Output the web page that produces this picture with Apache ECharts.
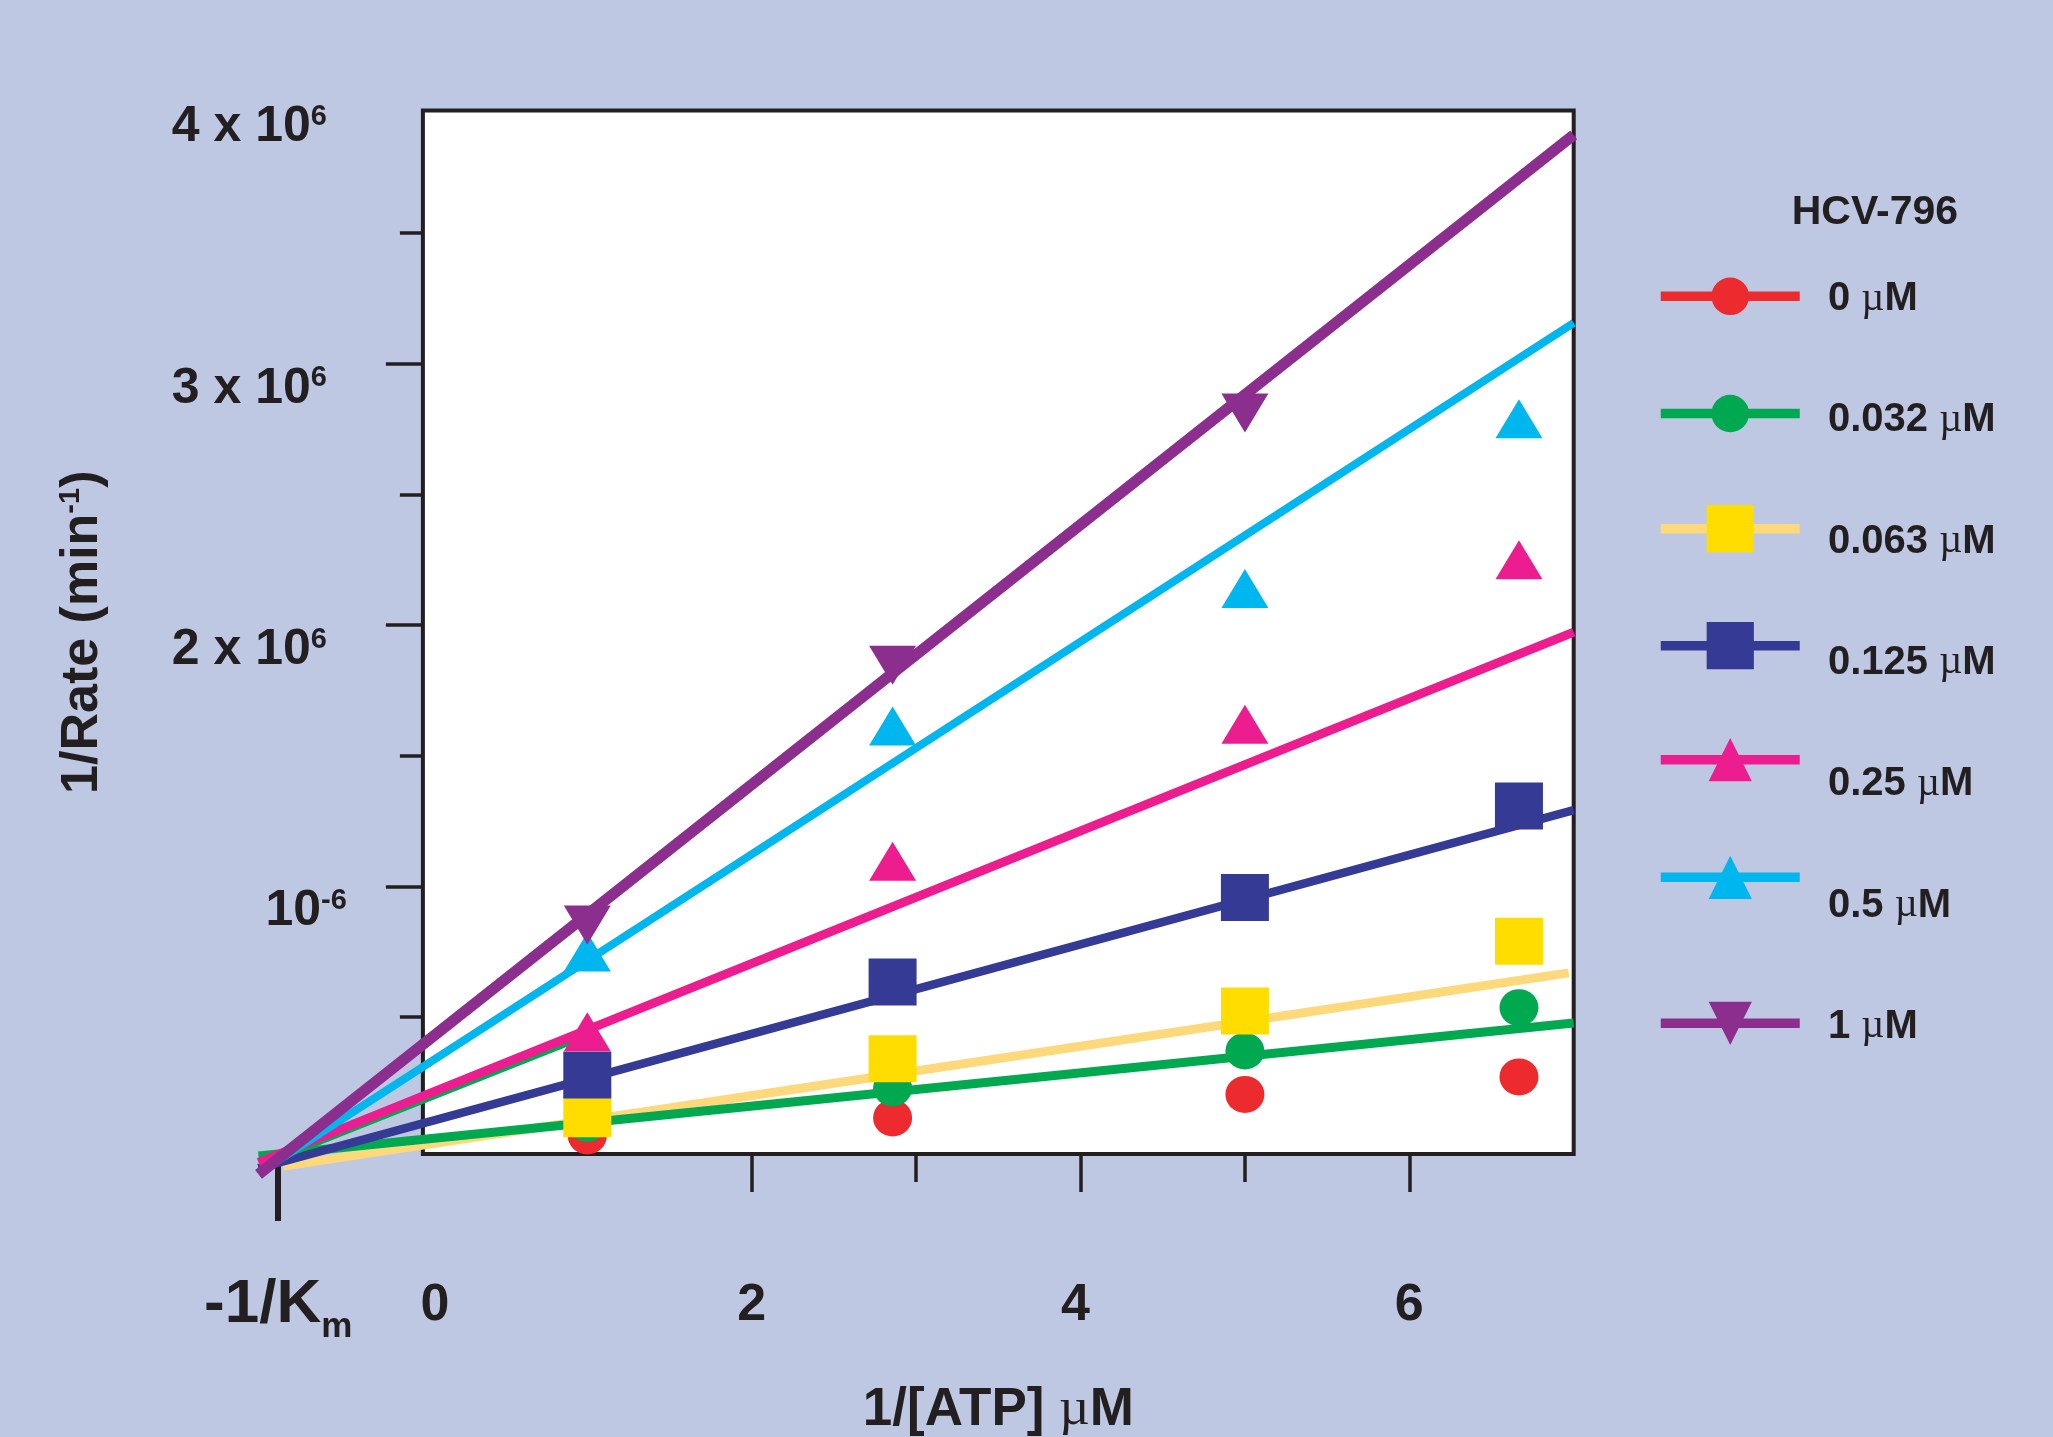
<!DOCTYPE html>
<html>
<head>
<meta charset="utf-8">
<script src="https://cdn.jsdelivr.net/npm/echarts@6/dist/echarts.min.js"></script>
<style>
html,body{margin:0;padding:0;background:#BEC8E3;}
#chart{width:2053px;height:1437px;}
</style>
</head>
<body>
<div id="chart"></div>
<script>
// ---------------- data ----------------
const seriesNames = ['0 µM', '0.032 µM', '0.063 µM', '0.125 µM', '0.25 µM', '0.5 µM', '1 µM'];
const invATP = [1, 2.857, 5, 6.667];          // 1/[ATP]
const invATP1 = [1, 2.857, 5];                // points for 1 µM
const rate0   = [45000, 114000, 204000, 271000];
const rate032 = [93000, 229000, 370000, 536000];
const rate063 = [130000, 340000, 523000, 790000];
const rate125 = [278000, 634000, 958000, 1308000];
const rate25  = [444000, 1096000, 1621000, 2250000];
const rate5   = [749000, 1614000, 2140000, 2790000];
const rate1   = [852000, 1846000, 2812000];

// drawn fit lines: [x, 1/rate] end points
const fit032  = [[-1.0, -32000], [7, 477000]];
const fit063  = [[-0.85, -70000], [6.97, 669000]];
const fit125  = [[-1.0, -78000], [7, 1292000]];
const fit25   = [[-1.0, -56000], [7, 1973000]];
const fit25b  = [[-0.86, -35000], [1.0, 430000]];
const fit5    = [[-1.0, -97000], [7, 3157000]];
const fit1    = [[-1.0, -102000], [7, 3876000]];

// axis ticks and labels
const xLabelVals = [0, 2, 4, 6];
const xMajorTicks = [2, 4, 6];
const xMinorTicks = [3, 5];
const kmTick = [-0.88];
const yLabelVals = [1e6, 2e6, 3e6, 4e6];
const yLabelMant = ['10', '2 x 10', '3 x 10', '4 x 10'];
const yLabelExp  = ['-6', '6', '6', '6'];
const yMajorTicks = [1e6, 2e6, 3e6];
const yMinorTicks = [0.5e6, 1.5e6, 2.5e6, 3.5e6];

// ---------------- layout / style ----------------
const W = 2053, H = 1437;
const INK = '#231F20';
const FONT = '"Liberation Sans", Arial, Helvetica, sans-serif';
const SERIF = '"Liberation Serif", "Times New Roman", serif';
const X_MIN = 0, X_MAX = 7, X_EXT_MIN = -1.1;
const Y_MIN = -24100, Y_MAX = 3969400, Y_EXT_MIN = -200000;
const BOX = {left: 422.9, right: 1573.7, top: 110.5, bottom: 1154};
const PX_X = (BOX.right - BOX.left) / (X_MAX - X_MIN);
const PX_Y = (BOX.bottom - BOX.top) / (Y_MAX - Y_MIN);
const EXT_LEFT = BOX.left - (X_MIN - X_EXT_MIN) * PX_X;
const EXT_BOTTOM = BOX.top + (Y_MAX - Y_EXT_MIN) * PX_Y;
const LABEL_SHIFT = 25 / PX_Y;   // y labels sit a little below their ticks

const C = {
  red: '#ED2A2E', green: '#00A850', yellow: '#FFDD00', yellowLine: '#FDD97C',
  blue: '#353B94', pink: '#EC1E8F', cyan: '#00B6EE', purple: '#8B2E8D'
};
const INV_TRI = 'path://M0,0L2,0L1,2Z';

function txt(size, extra) {
  return Object.assign({fontFamily: FONT, fontSize: size, fontWeight: 'bold', color: INK, lineHeight: size}, extra || {});
}

function lineSeries(name, data, lineColor, symColor, symbol, width) {
  return {
    type: 'line', name: name, data: data, xAxisIndex: 3, yAxisIndex: 3,
    showSymbol: false, symbol: symbol, symbolSize: 10, clip: false, silent: true, z: 2,
    lineStyle: {color: lineColor, width: width, cap: 'butt'},
    itemStyle: {color: symColor, borderWidth: 0},
    emphasis: {disabled: true}
  };
}
function scatterSeries(name, xs, ys, color, symbol, size) {
  return {
    type: 'scatter', name: name, xAxisIndex: 0, yAxisIndex: 0,
    data: xs.map((x, i) => [x, ys[i]]),
    symbol: symbol, symbolSize: size, silent: true, z: 3,
    itemStyle: {color: color, opacity: 1, borderWidth: 0},
    emphasis: {disabled: true}
  };
}

const series = [
  lineSeries(seriesNames[0], [], C.red, C.red, 'circle', 9),
  lineSeries(seriesNames[2], fit063, C.yellowLine, C.yellow, 'rect', 9),
  lineSeries(seriesNames[1], fit032, C.green, C.green, 'circle', 9),
  lineSeries(seriesNames[3], fit125, C.blue, C.blue, 'rect', 8.5),
  lineSeries('0.032 µM trace', fit25b, C.green, C.green, 'circle', 6),
  lineSeries(seriesNames[4], fit25, C.pink, C.pink, 'triangle', 9),
  lineSeries(seriesNames[5], fit5, C.cyan, C.cyan, 'triangle', 8),
  lineSeries(seriesNames[6], fit1, C.purple, C.purple, INV_TRI, 11),
  scatterSeries(seriesNames[0], invATP, rate0, C.red, 'circle', [39, 37]),
  scatterSeries(seriesNames[1], invATP, rate032, C.green, 'circle', [39, 37]),
  scatterSeries(seriesNames[2], invATP, rate063, C.yellow, 'rect', [48, 47]),
  scatterSeries(seriesNames[3], invATP, rate125, C.blue, 'rect', [48, 47]),
  scatterSeries(seriesNames[4], invATP, rate25, C.pink, 'triangle', [47, 39]),
  scatterSeries(seriesNames[5], invATP, rate5, C.cyan, 'triangle', [47, 39]),
  scatterSeries(seriesNames[6], invATP1, rate1, C.purple, INV_TRI, [47, 39])
];

function iconLegend(names, top, h, gap) {
  return {
    data: names, orient: 'vertical', left: 1656, top: top, padding: 0,
    itemWidth: 139, itemHeight: h, itemGap: gap, selectedMode: false,
    formatter: function () { return ' '; },
    textStyle: {fontSize: 1, lineHeight: h},
    lineStyle: {width: 9.5},
    itemStyle: {borderWidth: 0}
  };
}

const option = {
  backgroundColor: '#BEC8E3',
  animation: false,
  title: {
    text: 'HCV-796', left: 1791.7, top: 192.5, padding: 0,
    textStyle: txt(41)
  },
  legend: [
    iconLegend(seriesNames.slice(0, 2), 272.8, 47, 70.2),
    iconLegend(seriesNames.slice(2, 4), 499.2, 59, 58),
    iconLegend(seriesNames.slice(4, 6), 732.7, 54, 63.6),
    iconLegend(seriesNames.slice(6, 7), 996.3, 54, 60),
    {
      data: seriesNames, orient: 'vertical', left: 1823, top: 279, padding: 0,
      itemWidth: 0, itemHeight: 40, itemGap: 81.3, icon: 'none', selectedMode: false,
      formatter: function (n) { return '{t|' + n.replace(' µM', '') + ' }{mu|µ}{t|M}'; },
      textStyle: Object.assign(txt(40), {
        rich: {
          t: txt(40),
          mu: {fontFamily: SERIF, fontSize: 40, fontWeight: 'normal', color: INK, lineHeight: 40}
        }
      })
    }
  ],
  grid: [
    {left: BOX.left, right: W - BOX.right, top: BOX.top, bottom: H - BOX.bottom, show: true,
     backgroundColor: '#FFFFFF', borderColor: INK, borderWidth: 4, containLabel: false, outerBoundsMode: 'none'},
    {left: EXT_LEFT, right: W - BOX.right, top: BOX.top, bottom: H - EXT_BOTTOM, show: false,
     containLabel: false, outerBoundsMode: 'none'},
    {left: EXT_LEFT, right: W - BOX.right, top: BOX.top, bottom: H - 1150, show: false,
     containLabel: false, outerBoundsMode: 'none'}
  ],
  xAxis: [
    {
      gridIndex: 0, type: 'value', min: X_MIN, max: X_MAX, position: 'bottom',
      axisLine: {show: false, onZero: false}, splitLine: {show: false},
      axisTick: {show: true, customValues: xMajorTicks, length: 38, lineStyle: {color: INK, width: 3.5}},
      axisLabel: {
        customValues: xLabelVals, margin: 152, verticalAlign: 'middle',
        formatter: function (v) { return v === 0 ? '{z|0}' : (v === 4 ? '{f|4}' : '{n|' + v + '}'); },
        rich: {
          n: txt(52),
          z: txt(52, {padding: [0, 0, 0, 24]}),
          f: txt(52, {padding: [0, 10, 0, 0]})
        }
      },
      name: '{a|1/[ATP] }{mu|µ}{a|M}', nameLocation: 'middle', nameGap: 256, nameMoveOverlap: false,
      nameTextStyle: {
        align: 'center', verticalAlign: 'middle',
        rich: {
          a: txt(53),
          mu: {fontFamily: SERIF, fontSize: 53, fontWeight: 'normal', color: INK, lineHeight: 53}
        }
      }
    },
    {
      gridIndex: 0, type: 'value', min: X_MIN, max: X_MAX, position: 'bottom',
      axisLine: {show: false, onZero: false}, splitLine: {show: false},
      axisTick: {show: true, customValues: xMinorTicks, length: 28, lineStyle: {color: INK, width: 3.5}},
      axisLabel: {show: false}
    },
    {
      gridIndex: 2, type: 'value', min: X_EXT_MIN, max: X_MAX, position: 'bottom',
      axisLine: {show: false, onZero: false}, splitLine: {show: false},
      axisTick: {show: true, customValues: kmTick, length: 71, lineStyle: {color: INK, width: 6}},
      axisLabel: {
        customValues: kmTick, margin: 155, verticalAlign: 'middle',
        formatter: function () { return '{a|-1/K}{b|m}'; },
        rich: {
          a: txt(62, {lineHeight: 80}),
          b: txt(35, {verticalAlign: 'bottom'})
        }
      }
    },
    {gridIndex: 1, type: 'value', min: X_EXT_MIN, max: X_MAX, show: false}
  ],
  yAxis: [
    {
      gridIndex: 0, type: 'value', min: Y_MIN, max: Y_MAX, position: 'left',
      axisLine: {show: false}, splitLine: {show: false},
      axisTick: {show: true, customValues: yMajorTicks, length: 37, lineStyle: {color: INK, width: 3.5}},
      axisLabel: {
        customValues: yLabelVals.map(v => v - LABEL_SHIFT), margin: 76,
        formatter: function (v) {
          const i = yLabelVals.findIndex(t => Math.abs(t - LABEL_SHIFT - v) < 1);
          if (i < 0) return '';
          return '{m|' + yLabelMant[i] + '}{' + (i === 0 ? 's' : 'sp') + '|' + yLabelExp[i] + '}';
        },
        rich: {
          m: txt(50),
          s: txt(29, {verticalAlign: 'top'}),
          sp: txt(29, {verticalAlign: 'top', padding: [0, 20, 0, 0]})
        }
      },
      name: '{a|1/Rate (min}{s|-1}{a|)}', nameLocation: 'middle', nameGap: 340, nameRotate: 90,
      nameMoveOverlap: false,
      nameTextStyle: {
        align: 'center', verticalAlign: 'middle',
        rich: {
          a: txt(52),
          s: txt(29, {verticalAlign: 'top'})
        }
      }
    },
    {
      gridIndex: 0, type: 'value', min: Y_MIN, max: Y_MAX, position: 'left',
      axisLine: {show: false}, splitLine: {show: false},
      axisTick: {show: true, customValues: yMinorTicks, length: 23, lineStyle: {color: INK, width: 3.5}},
      axisLabel: {show: false}
    },
    {gridIndex: 2, type: 'value', min: Y_MIN, max: Y_MAX, show: false},
    {gridIndex: 1, type: 'value', min: Y_EXT_MIN, max: Y_MAX, show: false}
  ],
  series: series
};

const chart = echarts.init(document.getElementById('chart'), null, {renderer: 'canvas', width: W, height: H});
chart.setOption(option);
</script>
</body>
</html>
